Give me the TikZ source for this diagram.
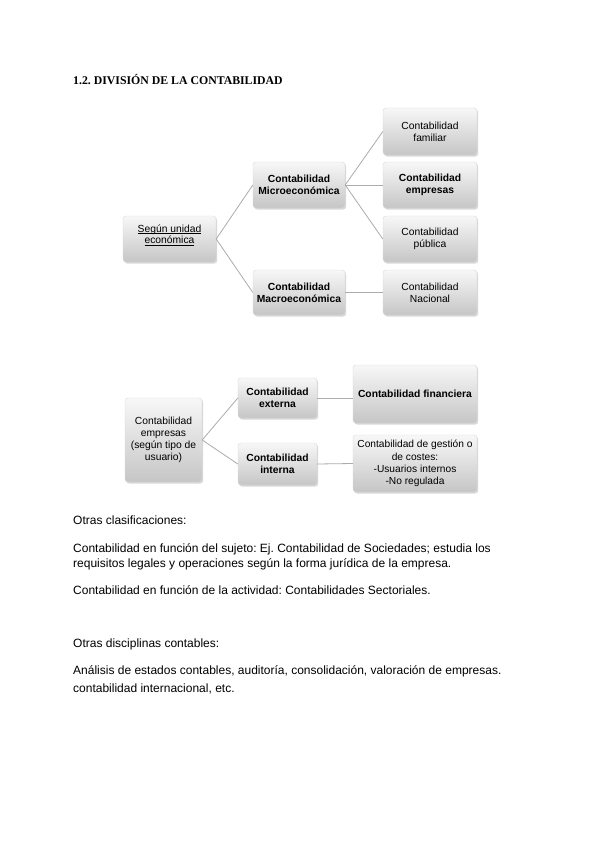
\documentclass[tikz,border=0pt]{standalone}
\usepackage{fontspec}
\setmainfont{Liberation Sans}
\newfontfamily\titlefont{Liberation Serif}
\usetikzlibrary{shadows}
\frenchspacing
\newcommand{\ulbase}[1]{\underline{\smash{#1}}}
\begin{document}
\begin{tikzpicture}[x=1pt,y=-1pt,
  box/.style={rounded corners=3pt, top color=gray!6, bottom color=gray!45, draw=gray!30, line width=0.4pt,
    drop shadow={opacity=0.3, shadow xshift=1.2pt, shadow yshift=-1.5pt},
    align=center, font=\fontsize{10.3}{11.8}\selectfont, inner sep=1pt},
  conn/.style={draw=gray!65, line width=0.8pt},
  body/.style={anchor=base west, inner sep=0pt, font=\fontsize{12}{14}\selectfont},
  hdr/.style={anchor=base west, inner sep=0pt, font=\titlefont\bfseries\fontsize{11.8}{13}\selectfont}]
\useasboundingbox[fill=white] (0,0) rectangle (600,848);

\node[hdr] (title) at (73,85) {1.2. DIVISIÓN DE LA CONTABILIDAD};

% Diagram 1
\node[box, minimum width=93pt, minimum height=46pt] (seg) at (169.5,239) {\ulbase{Según unidad}\\\ulbase{económica}};
\node[box, minimum width=92pt, minimum height=46pt] (micro) at (299,185) {\textbf{Contabilidad}\\\textbf{Microeconómica}};
\node[box, minimum width=92pt, minimum height=45pt] (macro) at (299,292.5) {\textbf{Contabilidad}\\\textbf{Macroeconómica}};
\node[box, minimum width=94pt, minimum height=47pt] (fam) at (430,131.5) {Contabilidad\\familiar};
\node[box, minimum width=94pt, minimum height=46pt] (emp) at (430,185) {\textbf{Contabilidad}\\\textbf{empresas}};
\node[box, minimum width=94pt, minimum height=46pt] (pub) at (430,239) {Contabilidad\\pública};
\node[box, minimum width=94pt, minimum height=45pt] (nac) at (430,292.5) {Contabilidad\\Nacional};

\draw[conn] (seg.east) -- (micro.west);
\draw[conn] (seg.east) -- (macro.west);
\draw[conn] (micro.east) -- (fam.west);
\draw[conn] (micro.east) -- (emp.west);
\draw[conn] (micro.east) -- (pub.west);
\draw[conn] (macro.east) -- (nac.west);

% Diagram 2
\node[box, minimum width=77pt, minimum height=84pt] (ce) at (163.5,440) {Contabilidad\\empresas\\(según tipo de\\usuario)};
\node[box, minimum width=79pt, minimum height=40pt] (ext) at (277.5,398) {\textbf{Contabilidad}\\\textbf{externa}};
\node[box, minimum width=79pt, minimum height=42pt] (int) at (277.5,464) {\textbf{Contabilidad}\\\textbf{interna}};
\node[box, minimum width=124pt, minimum height=58pt] (fin) at (415,394) {\textbf{Contabilidad financiera}};
\node[box, minimum width=124pt, minimum height=57pt, font=\fontsize{10.2}{12.3}\selectfont] (ges) at (415,463.5) {Contabilidad de gestión o\\de costes:\\-Usuarios internos\\-No regulada};

\draw[conn] (ce.east) -- (ext.west);
\draw[conn] (ce.east) -- (int.west);
\draw[conn] (ext.east) -- (ext.east -| fin.west);
\draw[conn] (int.east) -- (ges.west);

% Body text
\node[body] (t1) at (73,524) {Otras clasificaciones:};
\node[body] (t2) at (73,552) {Contabilidad en función del sujeto: Ej. Contabilidad de Sociedades; estudia los};
\node[body] (t3) at (73,567) {requisitos legales y operaciones según la forma jurídica de la empresa.};
\node[body] (t4) at (73,594) {Contabilidad en función de la actividad: Contabilidades Sectoriales.};
\node[body] (t5) at (73,647) {Otras disciplinas contables:};
\node[body] (t6) at (73,674) {Análisis de estados contables, auditoría, consolidación, valoración de empresas.};
\node[body] (t7) at (73,692) {contabilidad internacional, etc.};
\end{tikzpicture}
\end{document}
